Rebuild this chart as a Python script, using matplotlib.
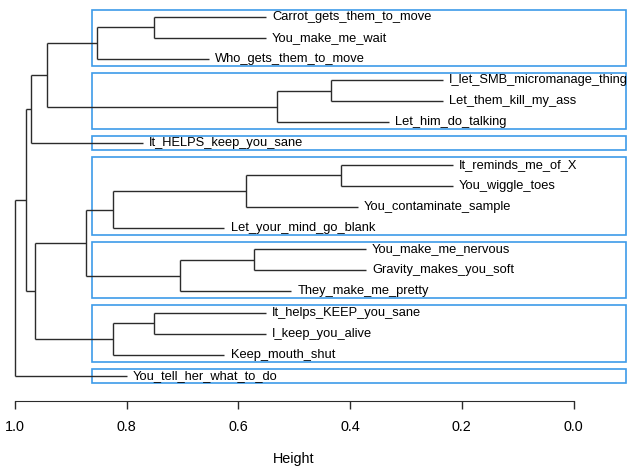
import matplotlib
matplotlib.use('Agg')
import matplotlib.pyplot as plt
from matplotlib.patches import Rectangle

# leaf labels, top to bottom
labels = ['Carrot_gets_them_to_move', 'You_make_me_wait', 'Who_gets_them_to_move',
          'I_let_SMB_micromanage_thing', 'Let_them_kill_my_ass', 'Let_him_do_talking',
          'It_HELPS_keep_you_sane', 'It_reminds_me_of_X', 'You_wiggle_toes',
          'You_contaminate_sample', 'Let_your_mind_go_blank', 'You_make_me_nervous',
          'Gravity_makes_you_soft', 'They_make_me_pretty', 'It_helps_KEEP_you_sane',
          'I_keep_you_alive', 'Keep_mouth_shut', 'You_tell_her_what_to_do']

# merges: left child, right child (leaf index or 18 + merge index), height
merge_left = [0, 18, 3, 20, 19, 22, 7, 24, 25, 11, 27, 26, 14, 30, 29, 23, 33]
merge_right = [1, 2, 4, 5, 21, 6, 8, 9, 10, 12, 13, 28, 15, 16, 31, 32, 17]
merge_height = [0.751, 0.853, 0.434, 0.531, 0.943, 0.971, 0.416, 0.586, 0.825,
                0.572, 0.705, 0.873, 0.751, 0.825, 0.964, 0.980, 1.0]

# clusters cut at k = 7 (first leaf, last leaf)
cluster_first = [0, 3, 6, 7, 11, 14, 17]
cluster_last = [2, 5, 6, 10, 13, 16, 17]

hang = 0.2
line_color = '#2b2b2b'
box_color = '#3d9be9'

fig = plt.figure(figsize=(6.28, 4.67), dpi=100)
ax = fig.add_axes([-38 / 628, 66.3 / 467, 664 / 628, 400.7 / 467])

n = len(labels)
ypos = {i: i + 1 for i in range(n)}
height = {i: None for i in range(n)}
for k in range(len(merge_left)):
    node = n + k
    a, b, h = merge_left[k], merge_right[k], merge_height[k]
    ypos[node] = (ypos[a] + ypos[b]) / 2
    height[node] = h
    # vertical connector
    ax.plot([h, h], [ypos[a], ypos[b]], color=line_color, lw=1.0, solid_capstyle='butt')
    for c in (a, b):
        if c < n:
            # leaf hangs down from its parent
            end = h - hang
            ax.plot([h, end], [ypos[c], ypos[c]], color=line_color, lw=1.0, solid_capstyle='butt')
            ax.text(end - 0.011, ypos[c], labels[c], ha='left', va='center',
                    fontsize=9.3, color='black', family='Liberation Sans')
        else:
            ax.plot([h, height[c]], [ypos[c], ypos[c]], color=line_color, lw=1.0, solid_capstyle='butt')

# cluster boxes
cut = (0.873 + 0.853) / 2
xmin, xmax = 1.0949, -0.094
for f, l in zip(cluster_first, cluster_last):
    y0 = f + 1 - 0.34
    y1 = l + 1 + 0.33
    ax.add_patch(Rectangle((xmax, y0), cut - xmax, y1 - y0, fill=False,
                           edgecolor=box_color, lw=1.2, clip_on=False))

ax.set_xlim(xmin, xmax)
ax.set_ylim(19.17, 0.21)

# R style axis
for s in ['top', 'left', 'right']:
    ax.spines[s].set_visible(False)
ax.spines['bottom'].set_bounds(1.0, 0.0)
ax.spines['bottom'].set_color(line_color)
ax.set_yticks([])
ax.set_xticks([1.0, 0.8, 0.6, 0.4, 0.2, 0.0])
ax.set_xticklabels(['1.0', '0.8', '0.6', '0.4', '0.2', '0.0'], family='Liberation Sans', fontsize=10.4)
ax.tick_params(axis='x', direction='out', length=6, width=1.0, color=line_color, pad=8)
ax.set_xlabel('Height', family='Liberation Sans', fontsize=10.4, labelpad=13)

fig.savefig('out.png', dpi=100)
